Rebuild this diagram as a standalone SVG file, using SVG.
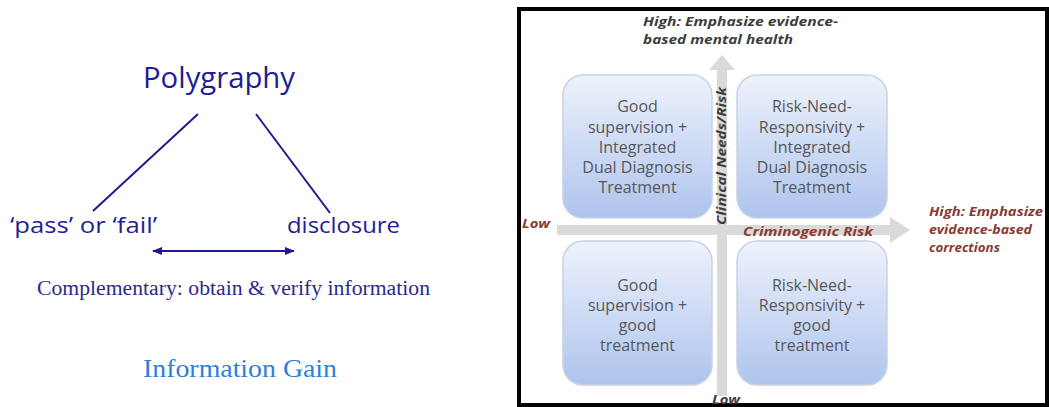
<svg xmlns="http://www.w3.org/2000/svg" width="1049" height="407" viewBox="0 0 1049 407">
<defs>
<linearGradient id="boxg" x1="0" y1="0" x2="0" y2="1">
<stop offset="0" stop-color="#eef2fb"/>
<stop offset="1" stop-color="#aec4ee"/>
</linearGradient>
<marker id="ah" viewBox="0 0 10 10" refX="9" refY="5" markerWidth="10" markerHeight="10" markerUnits="userSpaceOnUse" orient="auto-start-reverse">
<path d="M0,1 L10,5 L0,9 Z" fill="#1c1c8c"/>
</marker>
</defs>
<style>
.comic{font-family:"Open Sans","DejaVu Sans",sans-serif;fill:#1e1e96}
.serif{font-family:"Liberation Serif","Times New Roman",serif}
.box{fill:url(#boxg);stroke:#c9d2e2;stroke-width:1.5}
.bt{font-family:"Open Sans","Liberation Sans",sans-serif;font-size:16px;fill:#575757;text-anchor:middle}
.ax{font-family:"Open Sans","Liberation Sans",sans-serif;font-style:italic;font-weight:bold;font-size:13px}
.red{fill:#8a3a30}
.dk{fill:#3c3c3c}
.arr{fill:#dadada}
.ln{stroke:#1c1c8c;stroke-width:2;fill:none}
</style>
<rect width="1049" height="407" fill="#ffffff"/>

<!-- Left diagram -->
<g id="connectors-left">
<line class="ln" x1="198" y1="114" x2="93" y2="211"/>
<line class="ln" x1="256" y1="114" x2="330" y2="213"/>
<line class="ln" x1="153" y1="251" x2="294" y2="251" marker-start="url(#ah)" marker-end="url(#ah)"/>
</g>
<g id="node-polygraphy">
<text class="comic" x="219" y="88" font-size="29" text-anchor="middle" textLength="152" lengthAdjust="spacingAndGlyphs">Polygraphy</text>
</g>
<g id="node-passfail">
<text class="comic" x="10" y="233" font-size="21" textLength="147" lengthAdjust="spacingAndGlyphs">‘pass’ or ‘fail’</text>
</g>
<g id="node-disclosure">
<text class="comic" x="287" y="233" font-size="21" textLength="113" lengthAdjust="spacingAndGlyphs">disclosure</text>
</g>
<g id="label-complementary">
<text class="serif" x="37" y="295" font-size="20" fill="#2a2a8c" textLength="393" lengthAdjust="spacingAndGlyphs">Complementary: obtain &amp; verify information</text>
</g>
<g id="label-infogain">
<text class="serif" x="143" y="377" font-size="26" fill="#2e7fd6" textLength="194" lengthAdjust="spacingAndGlyphs">Information Gain</text>
</g>

<!-- Right diagram -->
<rect x="519" y="9" width="528" height="396" fill="#ffffff" stroke="#000000" stroke-width="4"/>
<g id="axes">
<rect class="arr" x="717" y="68" width="10" height="328"/>
<path class="arr" d="M709,70 L722,55 L735,70 Z"/>
<rect class="arr" x="557" y="225" width="335" height="10"/>
<path class="arr" d="M890,217 L910,230 L890,243 Z"/>
</g>
<g id="box-tl">
<rect class="box" x="563" y="75" width="149" height="143" rx="20"/>
<text class="bt" x="637.5" y="112">Good</text>
<text class="bt" x="637.5" y="133">supervision +</text>
<text class="bt" x="637.5" y="153">Integrated</text>
<text class="bt" x="637.5" y="173">Dual Diagnosis</text>
<text class="bt" x="637.5" y="193">Treatment</text>
</g>
<g id="box-tr">
<rect class="box" x="737" y="75" width="150" height="143" rx="20"/>
<text class="bt" x="812" y="112">Risk-Need-</text>
<text class="bt" x="812" y="133">Responsivity +</text>
<text class="bt" x="812" y="153">Integrated</text>
<text class="bt" x="812" y="173">Dual Diagnosis</text>
<text class="bt" x="812" y="193">Treatment</text>
</g>
<g id="box-bl">
<rect class="box" x="563" y="241" width="149" height="144" rx="20"/>
<text class="bt" x="637.5" y="291">Good</text>
<text class="bt" x="637.5" y="311">supervision +</text>
<text class="bt" x="637.5" y="331">good</text>
<text class="bt" x="637.5" y="351">treatment</text>
</g>
<g id="box-br">
<rect class="box" x="737" y="241" width="150" height="144" rx="20"/>
<text class="bt" x="812" y="291">Risk-Need-</text>
<text class="bt" x="812" y="311">Responsivity +</text>
<text class="bt" x="812" y="331">good</text>
<text class="bt" x="812" y="351">treatment</text>
</g>
<g id="axis-labels">
<text class="ax dk" x="643" y="26" textLength="195" lengthAdjust="spacingAndGlyphs">High: Emphasize evidence-</text>
<text class="ax dk" x="643" y="44" textLength="150" lengthAdjust="spacingAndGlyphs">based mental health</text>
<text class="ax dk" x="726" y="156" text-anchor="middle" transform="rotate(-90 726 156)" font-size="12" textLength="138" lengthAdjust="spacingAndGlyphs">Clinical Needs/Risk</text>
<text class="ax red" x="522" y="228" font-size="12" textLength="28" lengthAdjust="spacingAndGlyphs">Low</text>
<text class="ax red" x="743" y="236" textLength="130" lengthAdjust="spacingAndGlyphs">Criminogenic Risk</text>
<text class="ax red" x="929" y="216" textLength="114" lengthAdjust="spacingAndGlyphs">High: Emphasize</text>
<text class="ax red" x="929" y="234" textLength="103" lengthAdjust="spacingAndGlyphs">evidence-based</text>
<text class="ax red" x="929" y="252" textLength="71" lengthAdjust="spacingAndGlyphs">corrections</text>
<text class="ax dk" x="712" y="404" font-size="12" textLength="28" lengthAdjust="spacingAndGlyphs">Low</text>
</g>
</svg>
